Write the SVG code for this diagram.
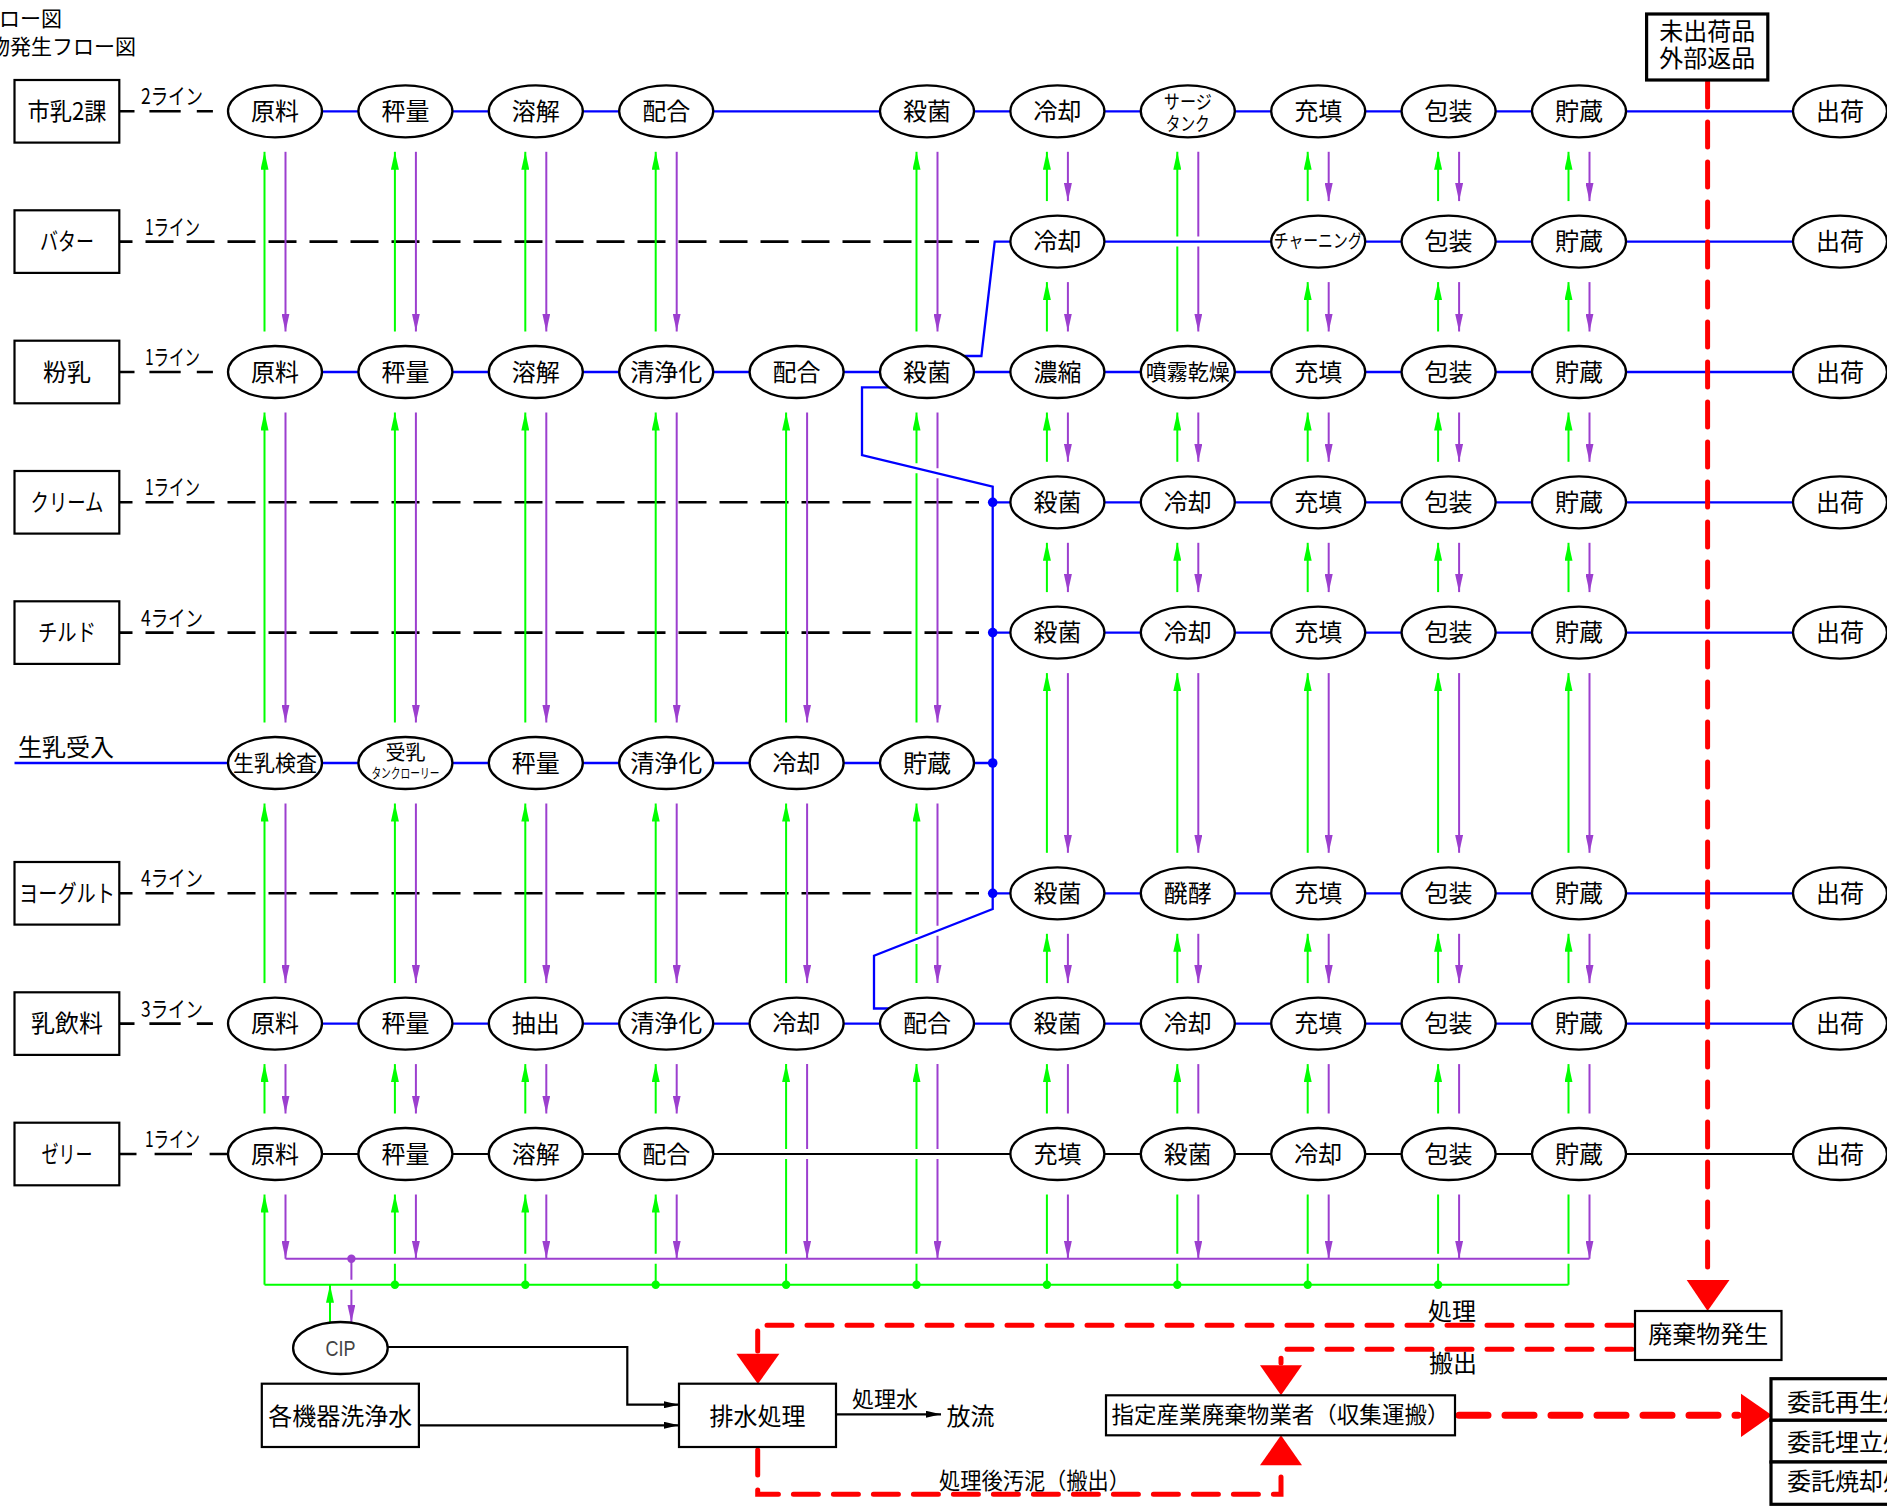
<svg xmlns="http://www.w3.org/2000/svg" width="1887" height="1511" viewBox="0 0 1887 1511">
<defs>
<style>
text{font-family:"Noto Sans CJK JP","Noto Sans",sans-serif;fill:#000}
.t{font-size:24px;text-anchor:middle}
.bt{font-size:24px;text-anchor:middle}
.lb{font-size:22px}
.e{fill:#fff;stroke:#000;stroke-width:2.3}
.b{fill:#fff;stroke:#000;stroke-width:2.2}
.bk{fill:#fff;stroke:#000;stroke-width:3.2}
.bl{fill:none;stroke:#0000ff;stroke-width:2.3}
.bf{fill:#0000ff}
.ln{fill:none;stroke:#000;stroke-width:2.2}
.dk{fill:none;stroke:#000;stroke-width:2.6}
.dd{stroke-dasharray:28 13;stroke-dashoffset:14.5}
.gr{fill:none;stroke:#00ff00;stroke-width:2}
.gf{fill:#00ff00}
.pu{fill:none;stroke:#9c3fcf;stroke-width:2}
.pf{fill:#9c3fcf}
.ga{marker-end:url(#ag)}
.pa{marker-end:url(#ap)}
.ka{marker-end:url(#ak)}
.rd{fill:none;stroke:#ff0000;stroke-width:5;stroke-linecap:round;stroke-dasharray:25 15}
.rw{fill:none;stroke:#ff0000;stroke-width:7;stroke-linecap:round;stroke-dasharray:29 17}
.rf{fill:#ff0000}
</style>
<marker id="ag" markerUnits="userSpaceOnUse" markerWidth="18" markerHeight="8" viewBox="0 0 18 8" refX="18" refY="4" orient="auto"><path d="M0,0L18,4L0,8z" fill="#00ff00"/></marker>
<marker id="ap" markerUnits="userSpaceOnUse" markerWidth="18" markerHeight="8" viewBox="0 0 18 8" refX="18" refY="4" orient="auto"><path d="M0,0L18,4L0,8z" fill="#9c3fcf"/></marker>
<marker id="ak" markerUnits="userSpaceOnUse" markerWidth="15" markerHeight="7" viewBox="0 0 15 7" refX="15" refY="3.5" orient="auto"><path d="M0,0L15,3.5L0,7z" fill="#000"/></marker>
</defs>
<rect width="1887" height="1511" fill="#fff"/>

<g id="title">
<text x="-22" y="26" style="font-size:21px">フロー図</text>
<text x="-11" y="54" style="font-size:21px">物発生フロー図</text>
</g>

<g id="connectors">
<g class="dk">
<path d="M119,111.3H134.5M149.4,111.3H180.7M196.8,111.3H212.9"/>
<path d="M119,372H134.5M149.4,372H180.7M196.8,372H212.9"/>
<path d="M119,1023.6H134.5M149.4,1023.6H180.7M196.8,1023.6H212.9"/>
<path d="M119,1154H136.5M154.6,1154H192M209.6,1154H228"/>
<path class="dd" d="M119,241.6H979"/>
<path class="dd" d="M119,502.3H979"/>
<path class="dd" d="M119,632.6H979"/>
<path class="dd" d="M119,893.3H979"/>
</g>
<g class="bl">
<path d="M275,111.3H1840"/>
<path d="M964.5,356H981.4L994.7,241.6H1840"/>
<path d="M275,372H1840"/>
<path d="M992.7,502.3H1840"/>
<path d="M992.7,632.6H1840"/>
<path d="M14.5,763H992.7"/>
<path d="M992.7,893.3H1840"/>
<path d="M275,1023.6H1840"/>
<path d="M889,387.3H862V455L992.7,486.7V909L874,955.7V1008.5H889"/>
</g>
<path class="ln" d="M275,1154H1840"/>

<g class="gr ga">
<path d="M264.5,331.5V151.8"/><path d="M264.5,722.5V412.5"/><path d="M264.5,983.1V803.5"/><path d="M264.5,1113.5V1064.1"/><path d="M264.5,1284.7V1194.5"/>
<path d="M394.9,331.5V151.8"/><path d="M394.9,722.5V412.5"/><path d="M394.9,983.1V803.5"/><path d="M394.9,1113.5V1064.1"/><path d="M394.9,1284.7V1263.7M394.9,1253.7V1194.5"/>
<path d="M525.3,331.5V151.8"/><path d="M525.3,722.5V412.5"/><path d="M525.3,983.1V803.5"/><path d="M525.3,1113.5V1064.1"/><path d="M525.3,1284.7V1263.7M525.3,1253.7V1194.5"/>
<path d="M655.7,331.5V151.8"/><path d="M655.7,722.5V412.5"/><path d="M655.7,983.1V803.5"/><path d="M655.7,1113.5V1064.1"/><path d="M655.7,1284.7V1263.7M655.7,1253.7V1194.5"/>
<path d="M786.1,722.5V412.5"/><path d="M786.1,983.1V803.5"/><path d="M786.1,1284.7V1263.7M786.1,1253.7V1159M786.1,1149V1064.1"/>
<path d="M916.5,331.5V151.8"/><path d="M916.5,722.5V473.2M916.5,463.2V412.5"/><path d="M916.5,983.1V944M916.5,934V803.5"/><path d="M916.5,1284.7V1263.7M916.5,1253.7V1159M916.5,1149V1064.1"/>
<path d="M1046.9,201.1V151.8"/><path d="M1046.9,331.5V282.1"/><path d="M1046.9,461.8V412.5"/><path d="M1046.9,592.1V542.8"/><path d="M1046.9,852.8V673.1"/><path d="M1046.9,983.1V933.8"/><path d="M1046.9,1113.5V1064.1"/>
<path d="M1177.3,331.5V246.6M1177.3,236.6V151.8"/><path d="M1177.3,461.8V412.5"/><path d="M1177.3,592.1V542.8"/><path d="M1177.3,852.8V673.1"/><path d="M1177.3,983.1V933.8"/><path d="M1177.3,1113.5V1064.1"/>
<path d="M1307.7,201.1V151.8"/><path d="M1307.7,331.5V282.1"/><path d="M1307.7,461.8V412.5"/><path d="M1307.7,592.1V542.8"/><path d="M1307.7,852.8V673.1"/><path d="M1307.7,983.1V933.8"/><path d="M1307.7,1113.5V1064.1"/>
<path d="M1438.1,201.1V151.8"/><path d="M1438.1,331.5V282.1"/><path d="M1438.1,461.8V412.5"/><path d="M1438.1,592.1V542.8"/><path d="M1438.1,852.8V673.1"/><path d="M1438.1,983.1V933.8"/><path d="M1438.1,1113.5V1064.1"/>
<path d="M1568.5,201.1V151.8"/><path d="M1568.5,331.5V282.1"/><path d="M1568.5,461.8V412.5"/><path d="M1568.5,592.1V542.8"/><path d="M1568.5,852.8V673.1"/><path d="M1568.5,983.1V933.8"/><path d="M1568.5,1113.5V1064.1"/>
<path d="M330,1322.5V1284.7"/>
</g>
<g class="gr">
<path d="M264.5,1284.7H1568.5"/>
<path d="M1046.9,1284.7V1263.7M1046.9,1253.7V1194.5"/>
<path d="M1177.3,1284.7V1263.7M1177.3,1253.7V1194.5"/>
<path d="M1307.7,1284.7V1263.7M1307.7,1253.7V1194.5"/>
<path d="M1438.1,1284.7V1263.7M1438.1,1253.7V1194.5"/>
<path d="M1568.5,1284.7V1263.7M1568.5,1253.7V1194.5"/>
</g>
<g class="gf">
<circle cx="394.9" cy="1284.7" r="4.2"/><circle cx="525.3" cy="1284.7" r="4.2"/><circle cx="655.7" cy="1284.7" r="4.2"/><circle cx="786.1" cy="1284.7" r="4.2"/><circle cx="916.5" cy="1284.7" r="4.2"/><circle cx="1046.9" cy="1284.7" r="4.2"/><circle cx="1177.3" cy="1284.7" r="4.2"/><circle cx="1307.7" cy="1284.7" r="4.2"/><circle cx="1438.1" cy="1284.7" r="4.2"/>
</g>

<g class="pu pa">
<path d="M285.5,151.8V331.5"/><path d="M285.5,412.5V722.5"/><path d="M285.5,803.5V983.1"/><path d="M285.5,1064.1V1113.5"/><path d="M285.5,1194.5V1258.7"/>
<path d="M415.9,151.8V331.5"/><path d="M415.9,412.5V722.5"/><path d="M415.9,803.5V983.1"/><path d="M415.9,1064.1V1113.5"/><path d="M415.9,1194.5V1258.7"/>
<path d="M546.3,151.8V331.5"/><path d="M546.3,412.5V722.5"/><path d="M546.3,803.5V983.1"/><path d="M546.3,1064.1V1113.5"/><path d="M546.3,1194.5V1258.7"/>
<path d="M676.7,151.8V331.5"/><path d="M676.7,412.5V722.5"/><path d="M676.7,803.5V983.1"/><path d="M676.7,1064.1V1113.5"/><path d="M676.7,1194.5V1258.7"/>
<path d="M807.1,412.5V722.5"/><path d="M807.1,803.5V983.1"/><path d="M807.1,1064.1V1149M807.1,1159V1258.7"/>
<path d="M937.5,151.8V331.5"/><path d="M937.5,412.5V468.3M937.5,478.3V722.5"/><path d="M937.5,803.5V925.7M937.5,935.7V983.1"/><path d="M937.5,1064.1V1149M937.5,1159V1258.7"/>
<path d="M1067.9,151.8V201.1"/><path d="M1067.9,282.1V331.5"/><path d="M1067.9,412.5V461.8"/><path d="M1067.9,542.8V592.1"/><path d="M1067.9,673.1V852.8"/><path d="M1067.9,933.8V983.1"/><path d="M1067.9,1194.5V1258.7"/>
<path d="M1198.3,151.8V236.6M1198.3,246.6V331.5"/><path d="M1198.3,412.5V461.8"/><path d="M1198.3,542.8V592.1"/><path d="M1198.3,673.1V852.8"/><path d="M1198.3,933.8V983.1"/><path d="M1198.3,1194.5V1258.7"/>
<path d="M1328.7,151.8V201.1"/><path d="M1328.7,282.1V331.5"/><path d="M1328.7,412.5V461.8"/><path d="M1328.7,542.8V592.1"/><path d="M1328.7,673.1V852.8"/><path d="M1328.7,933.8V983.1"/><path d="M1328.7,1194.5V1258.7"/>
<path d="M1459.1,151.8V201.1"/><path d="M1459.1,282.1V331.5"/><path d="M1459.1,412.5V461.8"/><path d="M1459.1,542.8V592.1"/><path d="M1459.1,673.1V852.8"/><path d="M1459.1,933.8V983.1"/><path d="M1459.1,1194.5V1258.7"/>
<path d="M1589.5,151.8V201.1"/><path d="M1589.5,282.1V331.5"/><path d="M1589.5,412.5V461.8"/><path d="M1589.5,542.8V592.1"/><path d="M1589.5,673.1V852.8"/><path d="M1589.5,933.8V983.1"/><path d="M1589.5,1194.5V1258.7"/>
<path d="M351.4,1258.7V1279.7M351.4,1289.7V1322.5"/>
</g>
<g class="pu">
<path d="M285.5,1258.7H1589.5"/>
<path d="M1067.9,1064.1V1113.5"/><path d="M1198.3,1064.1V1113.5"/><path d="M1328.7,1064.1V1113.5"/><path d="M1459.1,1064.1V1113.5"/><path d="M1589.5,1064.1V1113.5"/>
</g>
<circle class="pf" cx="351.4" cy="1258.7" r="4.2"/>

<g class="bf">
<circle cx="992.7" cy="502.3" r="4.8"/><circle cx="992.7" cy="632.6" r="4.8"/><circle cx="992.7" cy="763" r="4.8"/><circle cx="992.7" cy="893.3" r="4.8"/>
</g>

<path class="ln ka" d="M387.6,1347H627.3V1404.7H679"/>
<path class="ln ka" d="M418.9,1425.3H679"/>
<path class="ln ka" d="M836,1414.3H941"/>

<path class="rd" d="M1707.6,82V1278"/>
<path class="rf" d="M1686.7,1280H1729.5L1707.6,1311z"/>
<path class="rd" d="M1632,1325.3H757.7V1351"/>
<path class="rf" d="M736.4,1353.7H779.4L757.9,1384z"/>
<path class="rd" d="M1632,1349.3H1281V1363"/>
<path class="rf" d="M1260,1365.3H1302L1281,1395.3z"/>
<path class="rd" d="M757.7,1450V1494.3H1281V1468"/>
<path class="rf" d="M1260,1465.3H1302L1281,1435.3z"/>
<path class="rw" d="M1459,1415.3H1738"/>
<path class="rf" d="M1741,1393.7V1437L1772,1415.3z"/>
</g>

<g id="line-labels" class="lb">
<text x="141" y="104.3" textLength="62" lengthAdjust="spacingAndGlyphs">2ライン</text>
<text x="145" y="234.6" textLength="55" lengthAdjust="spacingAndGlyphs">1ライン</text>
<text x="145" y="365" textLength="55" lengthAdjust="spacingAndGlyphs">1ライン</text>
<text x="145" y="495.3" textLength="55" lengthAdjust="spacingAndGlyphs">1ライン</text>
<text x="141" y="625.6" textLength="62" lengthAdjust="spacingAndGlyphs">4ライン</text>
<text x="141" y="886.3" textLength="62" lengthAdjust="spacingAndGlyphs">4ライン</text>
<text x="141" y="1016.6" textLength="62" lengthAdjust="spacingAndGlyphs">3ライン</text>
<text x="145" y="1147" textLength="55" lengthAdjust="spacingAndGlyphs">1ライン</text>
</g>

<g id="lines-boxes">
<g id="box-shinyu2"><rect class="b" x="14.5" y="80" width="104.8" height="62.6"/><text class="bt" x="67" y="119.8" textLength="79" lengthAdjust="spacingAndGlyphs">市乳2課</text></g>
<g id="box-butter"><rect class="b" x="14.5" y="210.3" width="104.8" height="62.6"/><text class="bt" x="67" y="250.1" textLength="54" lengthAdjust="spacingAndGlyphs">バター</text></g>
<g id="box-funnyu"><rect class="b" x="14.5" y="340.7" width="104.8" height="62.6"/><text class="bt" x="67" y="380.5">粉乳</text></g>
<g id="box-cream"><rect class="b" x="14.5" y="471" width="104.8" height="62.6"/><text class="bt" x="67" y="510.8" textLength="73" lengthAdjust="spacingAndGlyphs">クリーム</text></g>
<g id="box-chilled"><rect class="b" x="14.5" y="601.3" width="104.8" height="62.6"/><text class="bt" x="67" y="641.1" textLength="58" lengthAdjust="spacingAndGlyphs">チルド</text></g>
<g id="label-seinyu"><text x="18" y="755.5" style="font-size:24px">生乳受入</text></g>
<g id="box-yogurt"><rect class="b" x="14.5" y="862" width="104.8" height="62.6"/><text class="bt" x="67" y="901.8" textLength="96" lengthAdjust="spacingAndGlyphs">ヨーグルト</text></g>
<g id="box-nyuinryo"><rect class="b" x="14.5" y="992.3" width="104.8" height="62.6"/><text class="bt" x="67" y="1032.1">乳飲料</text></g>
<g id="box-jelly"><rect class="b" x="14.5" y="1122.7" width="104.8" height="62.6"/><text class="bt" x="67" y="1162.5" textLength="51" lengthAdjust="spacingAndGlyphs">ゼリー</text></g>
</g>

<g id="nodes-r1">
<g id="r1c1"><ellipse class="e" cx="275" cy="111.3" rx="47" ry="26"/><text class="t" x="275" y="119.8">原料</text></g>
<g id="r1c2"><ellipse class="e" cx="405.4" cy="111.3" rx="47" ry="26"/><text class="t" x="405.4" y="119.8">秤量</text></g>
<g id="r1c3"><ellipse class="e" cx="535.8" cy="111.3" rx="47" ry="26"/><text class="t" x="535.8" y="119.8">溶解</text></g>
<g id="r1c4"><ellipse class="e" cx="666.2" cy="111.3" rx="47" ry="26"/><text class="t" x="666.2" y="119.8">配合</text></g>
<g id="r1c6"><ellipse class="e" cx="927" cy="111.3" rx="47" ry="26"/><text class="t" x="927" y="119.8">殺菌</text></g>
<g id="r1c7"><ellipse class="e" cx="1057.4" cy="111.3" rx="47" ry="26"/><text class="t" x="1057.4" y="119.8">冷却</text></g>
<g id="r1c8"><ellipse class="e" cx="1187.8" cy="111.3" rx="47" ry="26"/><text x="1187.8" y="108.5" style="font-size:19px;text-anchor:middle" textLength="48" lengthAdjust="spacingAndGlyphs">サージ</text><text x="1187.8" y="130.5" style="font-size:19px;text-anchor:middle" textLength="44" lengthAdjust="spacingAndGlyphs">タンク</text></g>
<g id="r1c9"><ellipse class="e" cx="1318.2" cy="111.3" rx="47" ry="26"/><text class="t" x="1318.2" y="119.8">充填</text></g>
<g id="r1c10"><ellipse class="e" cx="1448.6" cy="111.3" rx="47" ry="26"/><text class="t" x="1448.6" y="119.8">包装</text></g>
<g id="r1c11"><ellipse class="e" cx="1579" cy="111.3" rx="47" ry="26"/><text class="t" x="1579" y="119.8">貯蔵</text></g>
<g id="r1c12"><ellipse class="e" cx="1840" cy="111.3" rx="47" ry="26"/><text class="t" x="1840" y="119.8">出荷</text></g>
</g>

<g id="nodes-r2">
<g id="r2c7"><ellipse class="e" cx="1057.4" cy="241.6" rx="47" ry="26"/><text class="t" x="1057.4" y="250.1">冷却</text></g>
<g id="r2c9"><ellipse class="e" cx="1318.2" cy="241.6" rx="47" ry="26"/><text x="1318.2" y="248" style="font-size:19px;text-anchor:middle" textLength="89" lengthAdjust="spacingAndGlyphs">チャーニング</text></g>
<g id="r2c10"><ellipse class="e" cx="1448.6" cy="241.6" rx="47" ry="26"/><text class="t" x="1448.6" y="250.1">包装</text></g>
<g id="r2c11"><ellipse class="e" cx="1579" cy="241.6" rx="47" ry="26"/><text class="t" x="1579" y="250.1">貯蔵</text></g>
<g id="r2c12"><ellipse class="e" cx="1840" cy="241.6" rx="47" ry="26"/><text class="t" x="1840" y="250.1">出荷</text></g>
</g>

<g id="nodes-r3">
<g id="r3c1"><ellipse class="e" cx="275" cy="372" rx="47" ry="26"/><text class="t" x="275" y="380.5">原料</text></g>
<g id="r3c2"><ellipse class="e" cx="405.4" cy="372" rx="47" ry="26"/><text class="t" x="405.4" y="380.5">秤量</text></g>
<g id="r3c3"><ellipse class="e" cx="535.8" cy="372" rx="47" ry="26"/><text class="t" x="535.8" y="380.5">溶解</text></g>
<g id="r3c4"><ellipse class="e" cx="666.2" cy="372" rx="47" ry="26"/><text class="t" x="666.2" y="380.5">清浄化</text></g>
<g id="r3c5"><ellipse class="e" cx="796.6" cy="372" rx="47" ry="26"/><text class="t" x="796.6" y="380.5">配合</text></g>
<g id="r3c6"><ellipse class="e" cx="927" cy="372" rx="47" ry="26"/><text class="t" x="927" y="380.5">殺菌</text></g>
<g id="r3c7"><ellipse class="e" cx="1057.4" cy="372" rx="47" ry="26"/><text class="t" x="1057.4" y="380.5">濃縮</text></g>
<g id="r3c8"><ellipse class="e" cx="1187.8" cy="372" rx="47" ry="26"/><text x="1187.8" y="379.8" style="font-size:21.5px;text-anchor:middle" textLength="84" lengthAdjust="spacingAndGlyphs">噴霧乾燥</text></g>
<g id="r3c9"><ellipse class="e" cx="1318.2" cy="372" rx="47" ry="26"/><text class="t" x="1318.2" y="380.5">充填</text></g>
<g id="r3c10"><ellipse class="e" cx="1448.6" cy="372" rx="47" ry="26"/><text class="t" x="1448.6" y="380.5">包装</text></g>
<g id="r3c11"><ellipse class="e" cx="1579" cy="372" rx="47" ry="26"/><text class="t" x="1579" y="380.5">貯蔵</text></g>
<g id="r3c12"><ellipse class="e" cx="1840" cy="372" rx="47" ry="26"/><text class="t" x="1840" y="380.5">出荷</text></g>
</g>

<g id="nodes-r4">
<g id="r4c7"><ellipse class="e" cx="1057.4" cy="502.3" rx="47" ry="26"/><text class="t" x="1057.4" y="510.8">殺菌</text></g>
<g id="r4c8"><ellipse class="e" cx="1187.8" cy="502.3" rx="47" ry="26"/><text class="t" x="1187.8" y="510.8">冷却</text></g>
<g id="r4c9"><ellipse class="e" cx="1318.2" cy="502.3" rx="47" ry="26"/><text class="t" x="1318.2" y="510.8">充填</text></g>
<g id="r4c10"><ellipse class="e" cx="1448.6" cy="502.3" rx="47" ry="26"/><text class="t" x="1448.6" y="510.8">包装</text></g>
<g id="r4c11"><ellipse class="e" cx="1579" cy="502.3" rx="47" ry="26"/><text class="t" x="1579" y="510.8">貯蔵</text></g>
<g id="r4c12"><ellipse class="e" cx="1840" cy="502.3" rx="47" ry="26"/><text class="t" x="1840" y="510.8">出荷</text></g>
</g>

<g id="nodes-r5">
<g id="r5c7"><ellipse class="e" cx="1057.4" cy="632.6" rx="47" ry="26"/><text class="t" x="1057.4" y="641.1">殺菌</text></g>
<g id="r5c8"><ellipse class="e" cx="1187.8" cy="632.6" rx="47" ry="26"/><text class="t" x="1187.8" y="641.1">冷却</text></g>
<g id="r5c9"><ellipse class="e" cx="1318.2" cy="632.6" rx="47" ry="26"/><text class="t" x="1318.2" y="641.1">充填</text></g>
<g id="r5c10"><ellipse class="e" cx="1448.6" cy="632.6" rx="47" ry="26"/><text class="t" x="1448.6" y="641.1">包装</text></g>
<g id="r5c11"><ellipse class="e" cx="1579" cy="632.6" rx="47" ry="26"/><text class="t" x="1579" y="641.1">貯蔵</text></g>
<g id="r5c12"><ellipse class="e" cx="1840" cy="632.6" rx="47" ry="26"/><text class="t" x="1840" y="641.1">出荷</text></g>
</g>

<g id="nodes-r6">
<g id="r6c1"><ellipse class="e" cx="275" cy="763" rx="47" ry="26"/><text x="275" y="770.8" style="font-size:21.5px;text-anchor:middle" textLength="84" lengthAdjust="spacingAndGlyphs">生乳検査</text></g>
<g id="r6c2"><ellipse class="e" cx="405.4" cy="763" rx="47" ry="26"/><text x="405.4" y="759.5" style="font-size:20px;text-anchor:middle">受乳</text><text x="405.4" y="778" style="font-size:13.5px;text-anchor:middle" textLength="68" lengthAdjust="spacingAndGlyphs">タンクローリー</text></g>
<g id="r6c3"><ellipse class="e" cx="535.8" cy="763" rx="47" ry="26"/><text class="t" x="535.8" y="771.5">秤量</text></g>
<g id="r6c4"><ellipse class="e" cx="666.2" cy="763" rx="47" ry="26"/><text class="t" x="666.2" y="771.5">清浄化</text></g>
<g id="r6c5"><ellipse class="e" cx="796.6" cy="763" rx="47" ry="26"/><text class="t" x="796.6" y="771.5">冷却</text></g>
<g id="r6c6"><ellipse class="e" cx="927" cy="763" rx="47" ry="26"/><text class="t" x="927" y="771.5">貯蔵</text></g>
</g>

<g id="nodes-r7">
<g id="r7c7"><ellipse class="e" cx="1057.4" cy="893.3" rx="47" ry="26"/><text class="t" x="1057.4" y="901.8">殺菌</text></g>
<g id="r7c8"><ellipse class="e" cx="1187.8" cy="893.3" rx="47" ry="26"/><text class="t" x="1187.8" y="901.8">醗酵</text></g>
<g id="r7c9"><ellipse class="e" cx="1318.2" cy="893.3" rx="47" ry="26"/><text class="t" x="1318.2" y="901.8">充填</text></g>
<g id="r7c10"><ellipse class="e" cx="1448.6" cy="893.3" rx="47" ry="26"/><text class="t" x="1448.6" y="901.8">包装</text></g>
<g id="r7c11"><ellipse class="e" cx="1579" cy="893.3" rx="47" ry="26"/><text class="t" x="1579" y="901.8">貯蔵</text></g>
<g id="r7c12"><ellipse class="e" cx="1840" cy="893.3" rx="47" ry="26"/><text class="t" x="1840" y="901.8">出荷</text></g>
</g>

<g id="nodes-r8">
<g id="r8c1"><ellipse class="e" cx="275" cy="1023.6" rx="47" ry="26"/><text class="t" x="275" y="1032.1">原料</text></g>
<g id="r8c2"><ellipse class="e" cx="405.4" cy="1023.6" rx="47" ry="26"/><text class="t" x="405.4" y="1032.1">秤量</text></g>
<g id="r8c3"><ellipse class="e" cx="535.8" cy="1023.6" rx="47" ry="26"/><text class="t" x="535.8" y="1032.1">抽出</text></g>
<g id="r8c4"><ellipse class="e" cx="666.2" cy="1023.6" rx="47" ry="26"/><text class="t" x="666.2" y="1032.1">清浄化</text></g>
<g id="r8c5"><ellipse class="e" cx="796.6" cy="1023.6" rx="47" ry="26"/><text class="t" x="796.6" y="1032.1">冷却</text></g>
<g id="r8c6"><ellipse class="e" cx="927" cy="1023.6" rx="47" ry="26"/><text class="t" x="927" y="1032.1">配合</text></g>
<g id="r8c7"><ellipse class="e" cx="1057.4" cy="1023.6" rx="47" ry="26"/><text class="t" x="1057.4" y="1032.1">殺菌</text></g>
<g id="r8c8"><ellipse class="e" cx="1187.8" cy="1023.6" rx="47" ry="26"/><text class="t" x="1187.8" y="1032.1">冷却</text></g>
<g id="r8c9"><ellipse class="e" cx="1318.2" cy="1023.6" rx="47" ry="26"/><text class="t" x="1318.2" y="1032.1">充填</text></g>
<g id="r8c10"><ellipse class="e" cx="1448.6" cy="1023.6" rx="47" ry="26"/><text class="t" x="1448.6" y="1032.1">包装</text></g>
<g id="r8c11"><ellipse class="e" cx="1579" cy="1023.6" rx="47" ry="26"/><text class="t" x="1579" y="1032.1">貯蔵</text></g>
<g id="r8c12"><ellipse class="e" cx="1840" cy="1023.6" rx="47" ry="26"/><text class="t" x="1840" y="1032.1">出荷</text></g>
</g>

<g id="nodes-r9">
<g id="r9c1"><ellipse class="e" cx="275" cy="1154" rx="47" ry="26"/><text class="t" x="275" y="1162.5">原料</text></g>
<g id="r9c2"><ellipse class="e" cx="405.4" cy="1154" rx="47" ry="26"/><text class="t" x="405.4" y="1162.5">秤量</text></g>
<g id="r9c3"><ellipse class="e" cx="535.8" cy="1154" rx="47" ry="26"/><text class="t" x="535.8" y="1162.5">溶解</text></g>
<g id="r9c4"><ellipse class="e" cx="666.2" cy="1154" rx="47" ry="26"/><text class="t" x="666.2" y="1162.5">配合</text></g>
<g id="r9c7"><ellipse class="e" cx="1057.4" cy="1154" rx="47" ry="26"/><text class="t" x="1057.4" y="1162.5">充填</text></g>
<g id="r9c8"><ellipse class="e" cx="1187.8" cy="1154" rx="47" ry="26"/><text class="t" x="1187.8" y="1162.5">殺菌</text></g>
<g id="r9c9"><ellipse class="e" cx="1318.2" cy="1154" rx="47" ry="26"/><text class="t" x="1318.2" y="1162.5">冷却</text></g>
<g id="r9c10"><ellipse class="e" cx="1448.6" cy="1154" rx="47" ry="26"/><text class="t" x="1448.6" y="1162.5">包装</text></g>
<g id="r9c11"><ellipse class="e" cx="1579" cy="1154" rx="47" ry="26"/><text class="t" x="1579" y="1162.5">貯蔵</text></g>
<g id="r9c12"><ellipse class="e" cx="1840" cy="1154" rx="47" ry="26"/><text class="t" x="1840" y="1162.5">出荷</text></g>
</g>

<g id="bottom-nodes">
<g id="cip"><ellipse class="e" cx="340.4" cy="1348" rx="47.3" ry="26"/><text x="340.4" y="1356" style="font-family:'Liberation Sans',sans-serif;font-size:22px;text-anchor:middle;fill:#444" textLength="30" lengthAdjust="spacingAndGlyphs">CIP</text></g>
<g id="washwater"><rect class="b" x="261.8" y="1383.7" width="157.1" height="63.3"/><text class="t" x="340.3" y="1425">各機器洗浄水</text></g>
<g id="wastewater"><rect class="b" x="679" y="1383.7" width="157" height="63.3"/><text class="t" x="757.5" y="1425">排水処理</text></g>
<g id="treated-label"><text x="885" y="1407" style="font-size:22px;text-anchor:middle">処理水</text></g>
<g id="discharge"><text x="946.5" y="1425" style="font-size:24px">放流</text></g>
<g id="unshipped"><rect class="bk" x="1646.6" y="14" width="121.2" height="66"/><text class="t" x="1707.2" y="40">未出荷品</text><text class="t" x="1707.2" y="67">外部返品</text></g>
<g id="waste-gen"><rect class="b" x="1635" y="1311" width="146.5" height="49"/><text class="t" x="1708.3" y="1342.5">廃棄物発生</text></g>
<g id="contractor"><rect class="b" x="1106" y="1395.3" width="349" height="40"/><text x="1280.5" y="1423" style="font-size:22.5px;text-anchor:middle" textLength="338" lengthAdjust="spacingAndGlyphs">指定産業廃棄物業者（収集運搬）</text></g>
<g id="outsourced"><rect class="bk" x="1771" y="1378.7" width="140" height="41.6"/><rect class="bk" x="1771" y="1420.3" width="140" height="41.7"/><rect class="bk" x="1771" y="1462" width="140" height="42.3"/><text x="1787" y="1411" style="font-size:24px">委託再生処分</text><text x="1787" y="1451" style="font-size:24px">委託埋立処分</text><text x="1787" y="1489.5" style="font-size:24px">委託焼却処分</text></g>
<g id="flow-labels"><text class="t" x="1452" y="1320">処理</text><text class="t" x="1453" y="1372">搬出</text><text x="939" y="1489" style="font-size:22.5px" textLength="191" lengthAdjust="spacingAndGlyphs">処理後汚泥（搬出）</text></g>
</g>
</svg>
